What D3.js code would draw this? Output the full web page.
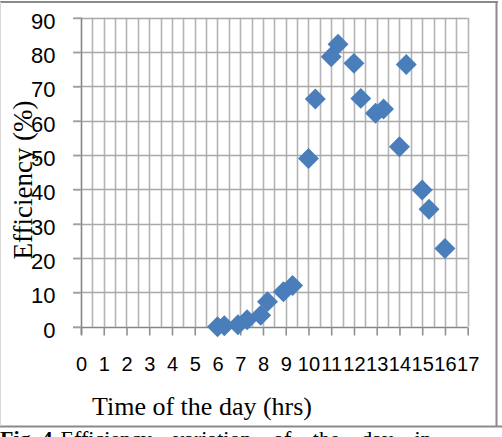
<!DOCTYPE html>
<html>
<head>
<meta charset="utf-8">
<script src="https://cdn.jsdelivr.net/npm/d3@7"></script>
<style>
  html, body { margin: 0; padding: 0; background: #fff; }
  svg { display: block; }
</style>
</head>
<body>
<svg id="chart" width="502" height="437"></svg>
<script>
// Measured efficiency against time of day
const hours      = [6.0, 6.3, 6.9, 7.3, 7.9, 8.2, 8.9, 9.3, 10.0, 10.3, 11.0, 11.3, 12.0, 12.3, 12.95, 13.3, 14.0, 14.3, 15.0, 15.3, 16.0];
const efficiency = [0,   0.3, 0.6, 2.0, 3.3, 7.3, 10.2, 12.0, 49.0, 66.3, 78.6, 82.3, 76.7, 66.5, 62.2, 63.4, 52.4, 76.4, 39.8, 34.2, 22.8];
const xTicks = d3.range(0, 18);          // 0 … 17
const yTicks = d3.range(0, 91, 10);      // 0 … 90
const xTitle = "Time of the day (hrs)";
const yTitle = "Efficiency (%)";

const svg = d3.select("#chart");
const x = d3.scaleLinear().domain([0, 17]).range([81, 467.7]);
const y = d3.scaleLinear().domain([0, 90]).range([326.7, 17.7]);

// outer frame
const frame = svg.append("g");
frame.append("line").attr("x1", 0).attr("x2", 498).attr("y1", 2).attr("y2", 2)
  .attr("stroke", "#8a8a8a").attr("stroke-width", 2);
frame.append("line").attr("x1", 496.5).attr("x2", 496.5).attr("y1", 1).attr("y2", 427)
  .attr("stroke", "#8a8a8a").attr("stroke-width", 2);
frame.append("line").attr("x1", 0).attr("x2", 502).attr("y1", 426.5).attr("y2", 426.5)
  .attr("stroke", "#8a8a8a").attr("stroke-width", 2);
frame.append("line").attr("x1", 0.5).attr("x2", 0.5).attr("y1", 2).attr("y2", 426)
  .attr("stroke", "#d8d8d8").attr("stroke-width", 1);

// half-hour vertical gridlines
svg.append("g").selectAll("line")
  .data(d3.range(0.5, 17.01, 0.5))
  .join("line")
  .attr("x1", d => Math.round(x(d)) + 0.5).attr("x2", d => Math.round(x(d)) + 0.5)
  .attr("y1", y(90)).attr("y2", y(0))
  .attr("stroke", "#b4b4b4").attr("stroke-width", 1.6);

// horizontal gridlines
svg.append("g").selectAll("line")
  .data(yTicks.filter(v => v > 0))
  .join("line")
  .attr("x1", x(0) - 8).attr("x2", x(17))
  .attr("y1", d => Math.round(y(d)) + 0.5).attr("y2", d => Math.round(y(d)) + 0.5)
  .attr("stroke", "#a8a8a8").attr("stroke-width", 1.6);

// x axis
const xAxis = svg.append("g")
  .attr("transform", `translate(0,${Math.round(y(0)) + 0.5})`)
  .call(d3.axisBottom(x).tickValues(xTicks).tickSize(8).tickPadding(21).tickSizeOuter(0));
xAxis.select(".domain").attr("d", `M${x(0) - 8},0H${x(17)}`).attr("stroke", "#868686").attr("stroke-width", 1.6);
xAxis.selectAll(".tick line").attr("stroke", "#909090").attr("stroke-width", 1.6);
xAxis.selectAll(".tick text")
  .attr("font-family", "'Liberation Sans', Arial, sans-serif")
  .attr("font-size", 20).attr("fill", "#000");

// y axis
const yAxis = svg.append("g")
  .attr("transform", `translate(${Math.round(x(0)) + 0.5},0)`)
  .call(d3.axisLeft(y).tickValues(yTicks).tickSize(8).tickPadding(18).tickSizeOuter(0));
yAxis.select(".domain").attr("d", `M0,${y(0) + 8}V${y(90)}`).attr("stroke", "#868686").attr("stroke-width", 1.6);
yAxis.selectAll(".tick line").attr("stroke", "#a0a0a0").attr("stroke-width", 1.6);
yAxis.selectAll(".tick text")
  .attr("font-family", "'Liberation Sans', Arial, sans-serif")
  .attr("font-size", 22).attr("fill", "#000").attr("dy", "0.48em");

// data markers (diamonds)
const diamond = d3.symbol().type(d3.symbolSquare).size(220);
svg.append("g").selectAll("path")
  .data(hours.map((h, i) => [h, efficiency[i]]))
  .join("path")
  .attr("d", diamond)
  .attr("transform", d => `translate(${x(d[0])},${y(d[1])}) rotate(45)`)
  .attr("fill", "#4a7ebb");

// axis titles
svg.append("text")
  .attr("x", 92).attr("y", 415)
  .attr("font-family", "'Liberation Serif', 'Times New Roman', serif")
  .attr("font-size", 26).attr("fill", "#000")
  .text(xTitle);

svg.append("text")
  .attr("transform", "translate(32,180) rotate(-90)")
  .attr("text-anchor", "middle")
  .attr("font-family", "'Liberation Serif', 'Times New Roman', serif")
  .attr("font-size", 27).attr("fill", "#000")
  .text(yTitle);

// figure caption below the frame (runs on past the bottom edge)
const cap = svg.append("text")
  .attr("x", 0).attr("y", 446)
  .attr("font-family", "'Liberation Serif', 'Times New Roman', serif")
  .attr("font-size", 22).attr("fill", "#000");
cap.append("tspan").attr("font-weight", "bold").text("Fig. 4");
cap.append("tspan").attr("dx", 8).attr("word-spacing", 16).text("Efficiency variation of the day in");
</script>
</body>
</html>
